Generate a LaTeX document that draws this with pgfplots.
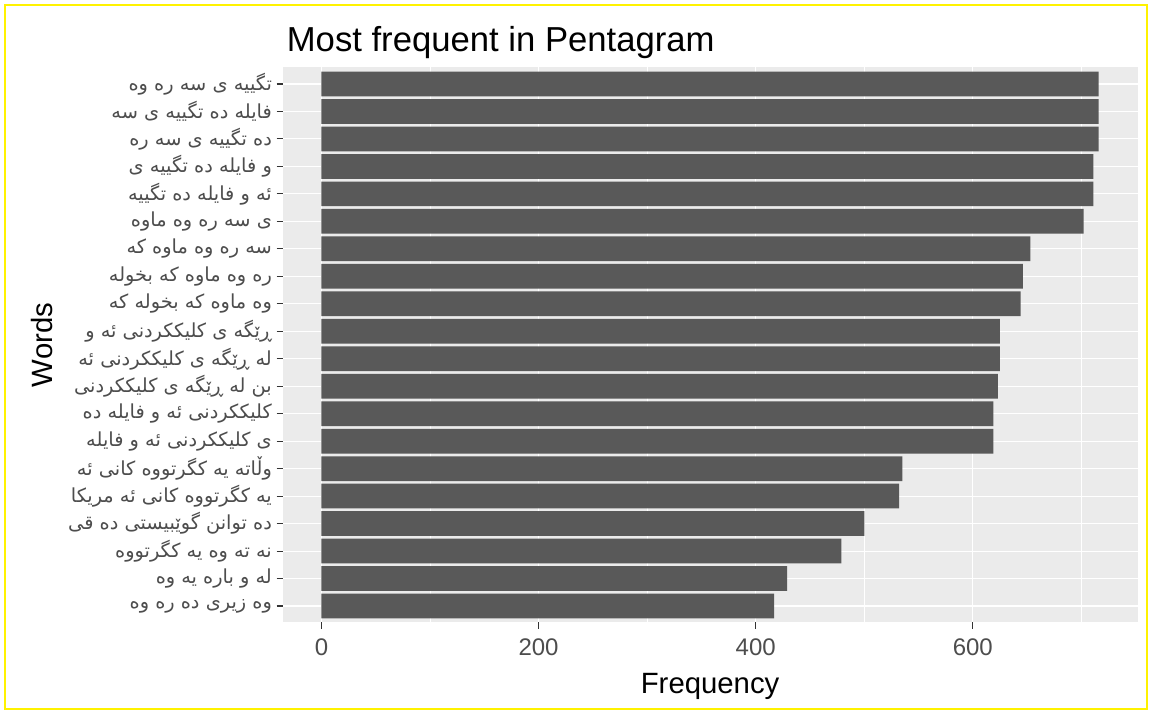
\documentclass[border=0pt]{standalone}
\usepackage{pgfplots}
\pgfplotsset{compat=1.18}
\usepackage{fontspec}
\setmainfont{Liberation Sans}
\newfontfamily\arabicfont[Script=Arabic]{DejaVu Sans}
\TeXXeTstate=1
\definecolor{panelbg}{HTML}{EBEBEB}
\definecolor{barfill}{HTML}{595959}
\definecolor{ticktext}{HTML}{4D4D4D}
\definecolor{tickcol}{HTML}{333333}
\definecolor{frameyellow}{HTML}{FFF200}
\begin{document}
\begin{tikzpicture}
\fill[white] (0pt,0pt) rectangle (863.25pt,534.75pt);
\begin{axis}[
  at={(211.95pt,67.875pt)}, anchor=south west,
  scale only axis, width=641.25pt, height=416.25pt,
  xmin=-35.8, xmax=751.8, ymin=0.4, ymax=20.6,
  xbar, bar width=0.9, bar shift=0,
  axis background/.style={fill=panelbg},
  axis line style={draw=none},
  tick align=outside, tick pos=left,
  major tick length=4.5pt,
  every tick/.style={tickcol, line width=0.8pt},
  xtick={0,200,400,600}, minor xtick={100,300,500,700},
  ytick={1,...,20},
  grid=both,
  major grid style={white, line width=0.8pt},
  minor grid style={white, line width=0.4pt},
  minor tick length=0pt,
  /pgf/number format/assume math mode=true,
  xticklabel style={font=\fontsize{18}{20}\selectfont, text=ticktext, yshift=-4.5pt},
  yticklabel style={font=\fontsize{14.5}{16}\selectfont, text=ticktext},
  yticklabels={
    {\arabicfont\beginR وه زیری ده ره وه\endR},
    {\arabicfont\beginR له و باره یه وه\endR},
    {\arabicfont\beginR نه ته وه یه کگرتووه\endR},
    {\arabicfont\beginR ده توانن گوێبیستی ده قی\endR},
    {\arabicfont\beginR یه کگرتووه کانی ئه مریکا\endR},
    {\arabicfont\beginR وڵاته یه کگرتووه کانی ئه\endR},
    {\arabicfont\beginR ی کلیککردنی ئه و فایله\endR},
    {\arabicfont\beginR کلیککردنی ئه و فایله ده\endR},
    {\arabicfont\beginR بن له ڕێگه ی کلیککردنی\endR},
    {\arabicfont\beginR له ڕێگه ی کلیککردنی ئه\endR},
    {\arabicfont\beginR ڕێگه ی کلیککردنی ئه و\endR},
    {\arabicfont\beginR وه ماوه که بخوله که\endR},
    {\arabicfont\beginR ره وه ماوه که بخوله\endR},
    {\arabicfont\beginR سه ره وه ماوه که\endR},
    {\arabicfont\beginR ی سه ره وه ماوه\endR},
    {\arabicfont\beginR ئه و فایله ده تگییه\endR},
    {\arabicfont\beginR و فایله ده تگییه ی\endR},
    {\arabicfont\beginR ده تگییه ی سه ره\endR},
    {\arabicfont\beginR فایله ده تگییه ی سه\endR},
    {\arabicfont\beginR تگییه ی سه ره وه\endR}},
  title={Most frequent in Pentagram},
  title style={at={(axis description cs:0,1.0315)}, anchor=base west, xshift=3pt, yshift=-6.75pt, font=\fontsize{26}{30}\selectfont, inner sep=0pt},
  xlabel={Frequency},
  every axis x label/.style={at={(axis description cs:0.5,-0.1252)}, anchor=base, yshift=-1.5pt, font=\fontsize{22}{26}\selectfont, inner sep=0pt},
  ylabel={Words},
  every axis y label/.style={at={(axis description cs:-0.2697,0.5)}, rotate=90, anchor=base, font=\fontsize{22}{26}\selectfont, inner sep=0pt},
]
\addplot[fill=barfill, draw=none] coordinates {
(417,1) (429,2) (479,3) (500,4) (532,5) (535,6) (619,7) (619,8) (623,9) (625,10)
(625,11) (644,12) (646,13) (653,14) (702,15) (711,16) (711,17) (716,18) (716,19) (716,20)
};
\end{axis}
\draw[frameyellow, line width=1.5pt] (3.75pt,3pt) rectangle (860.25pt,531pt);
\end{tikzpicture}
\end{document}
